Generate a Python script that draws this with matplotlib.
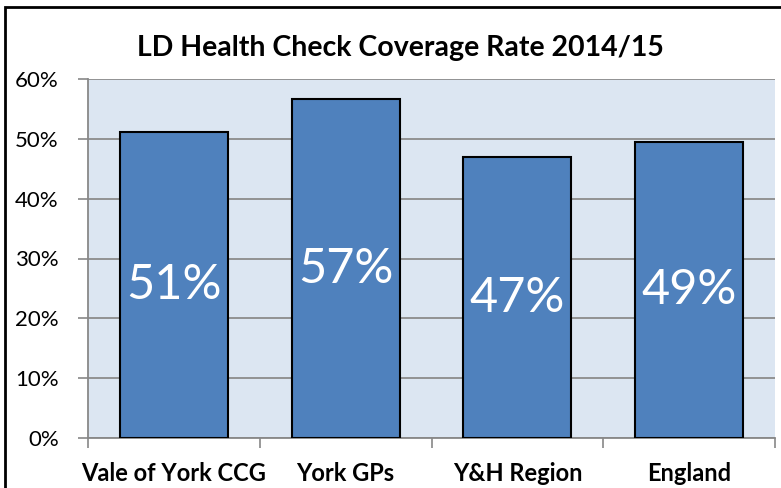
import matplotlib.pyplot as plt
import matplotlib.patches as mpatches
import numpy as np
from matplotlib.ticker import PercentFormatter

plt.rcParams["font.family"] = ["Lato", "DejaVu Sans"]

# data
categories = ["Vale of York CCG", "York GPs", "Y&H Region", "England"]
values = [51.1, 56.6, 46.9, 49.4]
labels = ["51%", "57%", "47%", "49%"]

W, H = 781, 488
fig = plt.figure(figsize=(W / 100, H / 100), dpi=100)
ax = fig.add_axes([88 / W, 50 / H, 687 / W, 359 / H])
ax.set_facecolor("#dce6f2")

x = np.arange(len(categories))
bars = ax.bar(x, values, width=0.63, color="#4f81bd", edgecolor="black",
              linewidth=1.5, zorder=3)

for b, lab in zip(bars, labels):
    ax.text(b.get_x() + b.get_width() / 2, b.get_height() / 2, lab,
            ha="center", va="center", color="white", fontsize=35, zorder=4)

ax.set_xlim(-0.5, len(categories) - 0.5)
ax.set_ylim(0, 60)
ax.set_yticks(np.arange(0, 61, 10))
ax.yaxis.set_major_formatter(PercentFormatter(decimals=0))
ax.set_xticks(np.arange(-0.5, len(categories), 1))
ax.set_xticklabels([])
ax.set_xticks(x, minor=True)
ax.set_xticklabels(categories, minor=True, fontweight="bold", fontsize=17)
ax.tick_params(axis="x", which="minor", length=0, pad=17)
ax.tick_params(axis="x", which="major", length=7, color="#888888", width=1.2)
ax.tick_params(axis="y", length=7, color="#888888", width=1.2, labelsize=16, pad=14)

ax.yaxis.grid(True, color="#8c8c8c", linewidth=1.3, zorder=0)
ax.set_axisbelow(True)
for side in ["top", "right"]:
    ax.spines[side].set_visible(False)
for side in ["left", "bottom"]:
    ax.spines[side].set_color("#888888")
    ax.spines[side].set_linewidth(1.3)

fig.text(400 / W, 1 - 48 / H, "LD Health Check Coverage Rate 2014/15",
         ha="center", va="center", fontsize=20.5, fontweight="bold")

# chart frame
fig.patches.append(mpatches.Rectangle((5 / W, -0.1), 2, 1.1 - 7 / H,
                   transform=fig.transFigure, fill=False, edgecolor="black",
                   linewidth=2, figure=fig))

fig.savefig("out.png", dpi=100)
